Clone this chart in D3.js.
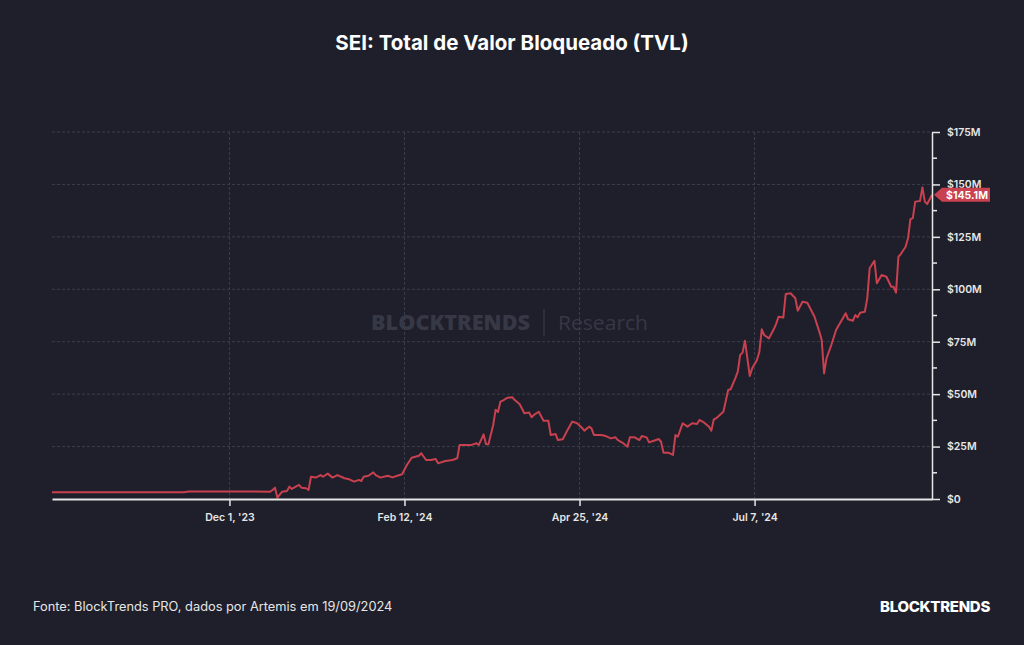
<!DOCTYPE html>
<html>
<head>
<meta charset="utf-8">
<script src="https://cdn.jsdelivr.net/npm/d3@7"></script>
<style>
  html, body { margin: 0; padding: 0; background: #1e1f2a; }
  svg { display: block; }
</style>
</head>
<body>
<svg id="chart" width="1024" height="645"></svg>
<script>
const title = "SEI: Total de Valor Bloqueado (TVL)";
const source = "Fonte: BlockTrends PRO, dados por Artemis em 19/09/2024";
const brand = "BLOCKTRENDS";
const lastLabel = "$145.1M";

const xTickDates = ["2023-12-01", "2024-02-12", "2024-04-25", "2024-07-07"];
const xTickLabels = ["Dec 1, '23", "Feb 12, '24", "Apr 25, '24", "Jul 7, '24"];
const yTicks = [0, 25, 50, 75, 100, 125, 150, 175];
const yTickLabels = ["$0", "$25M", "$50M", "$75M", "$100M", "$125M", "$150M", "$175M"];
const yMinorTicks = [12.5, 37.5, 62.5, 87.5, 112.5, 137.5, 162.5];

const dates = [
  "2023-09-18","2023-10-15","2023-11-12","2023-11-14","2023-12-10","2023-12-18",
  "2023-12-19","2023-12-20","2023-12-21","2023-12-23","2023-12-25","2023-12-26",
  "2023-12-27","2023-12-30","2023-12-31","2024-01-02","2024-01-03","2024-01-04",
  "2024-01-06","2024-01-08","2024-01-09","2024-01-11","2024-01-13","2024-01-15",
  "2024-01-18","2024-01-20","2024-01-22","2024-01-24","2024-01-25","2024-01-26",
  "2024-01-28","2024-01-30","2024-01-31","2024-02-02","2024-02-05","2024-02-07",
  "2024-02-09","2024-02-11","2024-02-13","2024-02-15","2024-02-18","2024-02-19",
  "2024-02-21","2024-02-23","2024-02-25","2024-02-26","2024-02-29","2024-03-03",
  "2024-03-05","2024-03-06","2024-03-08","2024-03-11","2024-03-13","2024-03-14",
  "2024-03-16","2024-03-17","2024-03-18","2024-03-20","2024-03-21","2024-03-22",
  "2024-03-23","2024-03-24","2024-03-26","2024-03-28","2024-03-29","2024-03-31",
  "2024-04-02","2024-04-04","2024-04-05","2024-04-06","2024-04-08","2024-04-10",
  "2024-04-12","2024-04-13","2024-04-15","2024-04-16","2024-04-18","2024-04-20",
  "2024-04-22","2024-04-24","2024-04-26","2024-04-27","2024-04-29","2024-04-30",
  "2024-05-01","2024-05-04","2024-05-06","2024-05-08","2024-05-10","2024-05-11",
  "2024-05-13","2024-05-15","2024-05-16","2024-05-18","2024-05-20","2024-05-21",
  "2024-05-23","2024-05-24","2024-05-26","2024-05-28","2024-05-29","2024-05-30",
  "2024-06-01","2024-06-03","2024-06-04","2024-06-05","2024-06-07","2024-06-09",
  "2024-06-11","2024-06-13","2024-06-14","2024-06-16","2024-06-18","2024-06-19",
  "2024-06-20","2024-06-21","2024-06-24","2024-06-26","2024-06-27","2024-06-29",
  "2024-06-30","2024-07-01","2024-07-02","2024-07-03","2024-07-05","2024-07-06",
  "2024-07-08","2024-07-09","2024-07-10","2024-07-11","2024-07-13","2024-07-15",
  "2024-07-16","2024-07-17","2024-07-19","2024-07-20","2024-07-22","2024-07-24",
  "2024-07-25","2024-07-27","2024-07-29","2024-08-01","2024-08-03","2024-08-04",
  "2024-08-05","2024-08-06","2024-08-08","2024-08-10","2024-08-11","2024-08-13",
  "2024-08-14","2024-08-15","2024-08-17","2024-08-18","2024-08-19","2024-08-20",
  "2024-08-22","2024-08-23","2024-08-24","2024-08-26","2024-08-27","2024-08-29",
  "2024-08-31","2024-09-02","2024-09-03","2024-09-04","2024-09-05","2024-09-06",
  "2024-09-08","2024-09-09","2024-09-10","2024-09-11","2024-09-12","2024-09-14",
  "2024-09-15","2024-09-16","2024-09-17","2024-09-19"
];
const tvl = [
  3.2,3.2,3.2,3.6,3.6,3.5,
  4.3,5.4,0.6,3.5,3.8,5.9,
  4.8,6.7,5.4,5.1,4.3,10.6,
  10.2,11.4,10.6,12.1,10.2,11.4,
  9.9,9.4,8.3,9.1,8.6,10.6,
  11.1,12.7,11.4,10.2,11.1,10.3,
  11.1,11.8,16.2,19.7,20.6,21.8,
  18.6,18.6,19.1,17.0,18.1,18.6,
  19.4,25.8,25.8,25.8,26.6,25.8,
  30.8,26.1,26.1,35.3,42.5,41.5,
  46.4,46.9,48.3,48.5,47.2,45.3,
  40.9,41.2,39.0,40.1,41.6,37.3,
  37.3,30.5,31.0,28.1,28.5,32.9,
  36.9,36.1,34.0,32.6,34.5,33.7,
  30.5,30.5,30.0,28.9,29.4,28.1,
  26.8,24.9,29.4,29.4,28.1,30.0,
  29.4,27.0,27.8,28.6,27.3,22.1,
  22.1,21.0,30.5,29.7,36.1,34.5,
  36.1,35.8,37.7,36.4,34.5,32.6,
  38.0,38.5,41.6,52.0,52.3,57.6,
  60.7,68.7,69.8,75.5,58.7,62.3,
  66.3,70.2,80.9,78.2,76.6,80.9,
  83.5,86.9,86.5,97.8,98.1,95.7,
  89.8,94.1,93.6,86.9,79.8,75.8,
  59.9,67.1,73.4,80.6,82.6,86.6,
  88.6,85.7,85.0,87.7,86.6,88.8,
  89.3,95.7,110.0,113.6,102.9,106.8,
  106.0,101.2,101.2,98.4,115.5,116.8,
  120.3,124.3,133.4,133.9,141.8,142.1,
  148.6,141.8,140.7,145.1
];

const parse = d3.timeParse("%Y-%m-%d");
const data = dates.map((d, i) => ({ date: parse(d), value: tvl[i] }));

const svg = d3.select("#chart");
const W = 1024, H = 645;
const mLeft = 52, mRight = 932, mTop = 132, mBottom = 499;
const font = "Inter, 'Noto Sans', sans-serif";

svg.append("rect").attr("width", W).attr("height", H).attr("fill", "#1e1f2a");

const x = d3.scaleTime()
  .domain([parse("2023-09-18"), parse("2024-09-19")])
  .range([mLeft, mRight]);
const y = d3.scaleLinear().domain([0, 175]).range([mBottom, mTop]);

// Title
svg.append("text")
  .attr("x", 512).attr("y", 50)
  .attr("text-anchor", "middle")
  .attr("font-family", font).attr("font-weight", 700).attr("font-size", 20.5)
  .attr("fill", "#ffffff")
  .text(title);

// Watermark
const wm = svg.append("g").attr("font-family", "'Open Sans', Inter, sans-serif").attr("fill", "#363846");
wm.append("text").attr("x", 371).attr("y", 330)
  .attr("font-weight", 800).attr("font-size", 20.5)
  .attr("textLength", 159).attr("lengthAdjust", "spacingAndGlyphs").text("BLOCKTRENDS");
wm.append("line").attr("x1", 544).attr("x2", 544).attr("y1", 309).attr("y2", 336)
  .attr("stroke", "#363846").attr("stroke-width", 1.2);
wm.append("text").attr("x", 558).attr("y", 330)
  .attr("font-weight", 400).attr("font-size", 20.5)
  .attr("textLength", 90).attr("lengthAdjust", "spacingAndGlyphs").text("Research");

// Grid
const grid = svg.append("g");
grid.selectAll("line.h").data(yTicks.filter(v => v > 0)).join("line")
  .attr("x1", mLeft).attr("x2", mRight)
  .attr("y1", d => y(d)).attr("y2", d => y(d))
  .attr("stroke", "#3b3e4c").attr("stroke-width", 1).attr("stroke-dasharray", "3,2");
grid.selectAll("line.v").data(xTickDates).join("line")
  .attr("x1", d => x(parse(d))).attr("x2", d => x(parse(d)))
  .attr("y1", mTop).attr("y2", mBottom)
  .attr("stroke", "#3b3e4c").attr("stroke-width", 1).attr("stroke-dasharray", "3,2");

// Line
const line = d3.line().x(d => x(d.date)).y(d => y(d.value)).curve(d3.curveLinear);
svg.append("path").datum(data)
  .attr("d", line)
  .attr("fill", "none")
  .attr("stroke", "#c9404f")
  .attr("stroke-width", 2)
  .attr("stroke-linejoin", "round");

// X axis
const xAxis = d3.axisBottom(x)
  .tickValues(xTickDates.map(parse))
  .tickFormat((d, i) => xTickLabels[i])
  .tickSize(7).tickSizeOuter(0).tickPadding(8);
const gx = svg.append("g").attr("transform", `translate(0,${mBottom})`).call(xAxis);
gx.select(".domain").attr("stroke", "#e6e6e6").attr("stroke-width", 2);
gx.selectAll(".tick line").attr("stroke", "#e6e6e6").attr("stroke-width", 1.5);
gx.selectAll(".tick text").attr("fill", "#e6e6e6")
  .attr("font-family", font).attr("font-size", 10.5).attr("font-weight", 600);

// Y axis (right)
const yAxis = d3.axisRight(y)
  .tickValues(yTicks)
  .tickFormat((d, i) => yTickLabels[i])
  .tickSize(8).tickSizeOuter(0).tickPadding(7);
const gy = svg.append("g").attr("transform", `translate(${mRight},0)`).call(yAxis);
gy.select(".domain").attr("stroke", "#e6e6e6").attr("stroke-width", 1.5);
gy.selectAll(".tick line").attr("stroke", "#e6e6e6").attr("stroke-width", 1.5);
gy.selectAll(".tick text").attr("fill", "#e6e6e6")
  .attr("font-family", font).attr("font-size", 10.5).attr("font-weight", 600);
gy.selectAll("line.minor").data(yMinorTicks).join("line")
  .attr("class", "minor")
  .attr("x1", 0).attr("x2", 5)
  .attr("y1", d => y(d)).attr("y2", d => y(d))
  .attr("stroke", "#e6e6e6").attr("stroke-width", 1.5);

// Last value label
const last = data[data.length - 1];
const ly = y(last.value);
const lab = svg.append("g");
lab.append("path")
  .attr("d", `M${mRight + 2},${ly} L${mRight + 10},${ly - 7} L${mRight + 58},${ly - 7} L${mRight + 58},${ly + 7} L${mRight + 10},${ly + 7} Z`)
  .attr("fill", "#c9404f");
lab.append("text")
  .attr("x", mRight + 35).attr("y", ly + 4)
  .attr("text-anchor", "middle")
  .attr("font-family", font).attr("font-weight", 700).attr("font-size", 10.5)
  .attr("fill", "#ffffff")
  .text(lastLabel);

// Footer
svg.append("text")
  .attr("x", 33).attr("y", 611)
  .attr("font-family", font).attr("font-size", 12.8).attr("font-weight", 400)
  .attr("fill", "#e6e6e6")
  .text(source);
svg.append("text")
  .attr("x", 990).attr("y", 612)
  .attr("text-anchor", "end")
  .attr("font-family", font).attr("font-size", 15).attr("font-weight", 800)
  .attr("letter-spacing", -0.3)
  .attr("fill", "#ffffff")
  .text(brand);
</script>
</body>
</html>
